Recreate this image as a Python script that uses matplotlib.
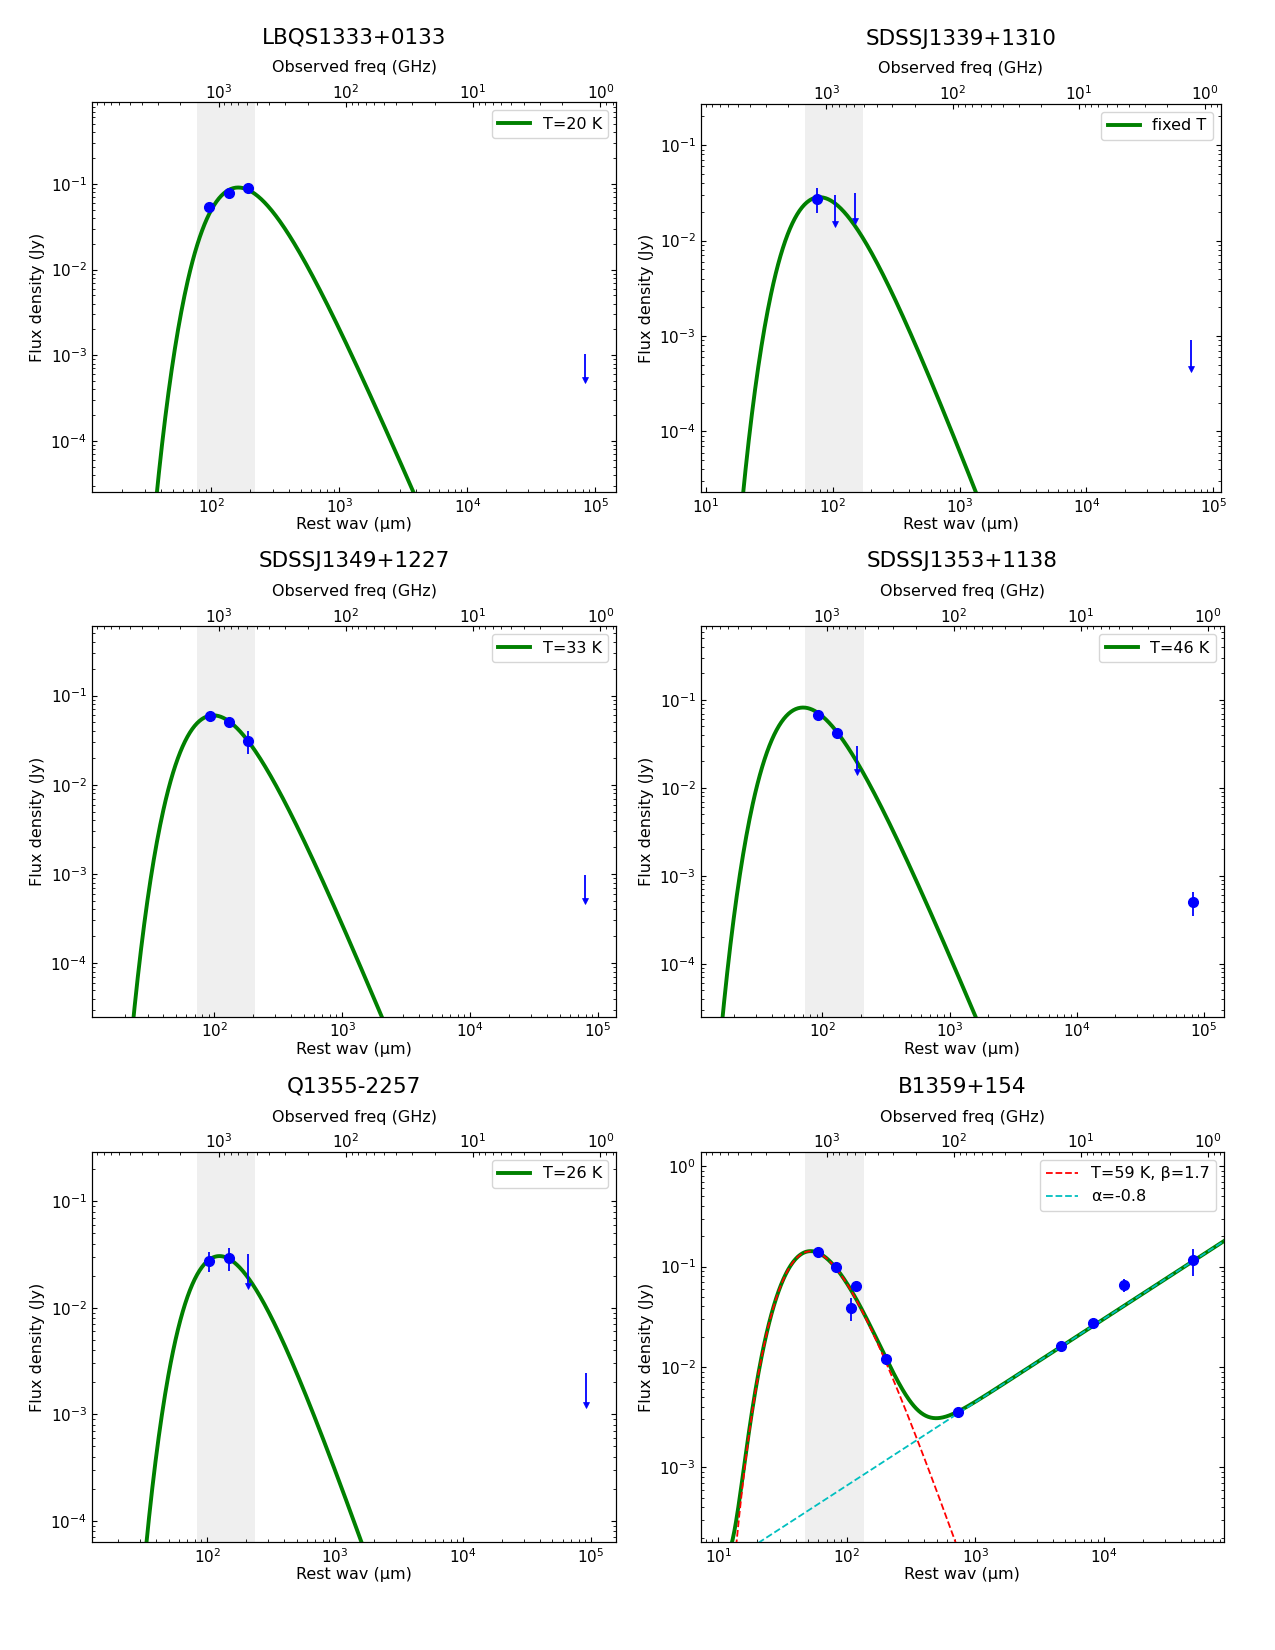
import numpy as np
from matplotlib import pyplot as plt

# source names and fit labels
names = ['LBQS1333+0133', 'SDSSJ1339+1310', 'SDSSJ1349+1227',
         'SDSSJ1353+1138', 'Q1355-2257', 'B1359+154']
fit_labels = ['T=20 K', 'fixed T', 'T=33 K', 'T=46 K', 'T=26 K', None]

# greybody parameters (rest frame), peak flux
temps = [20, 41, 33, 46, 26, 59]
betas = [1.5, 1.5, 1.5, 1.5, 1.5, 1.7]
peak_flux = [0.091, 0.0285, 0.060, 0.082, 0.0306, 0.142]

# synchrotron for B1359+154: S ~ nu^alpha, flux at 1000 um rest
sync_alpha = -0.83
sync_s1000 = 4.45e-3

# detections: rest wavelength (um), flux (Jy), error (Jy)
det_wav = [
    [96, 136, 194],
    [75],
    [92, 129, 184],
    [93, 130, 82800],
    [104, 147],
    [60, 83, 107, 119, 201, 738, 4670, 8280, 14300, 49000],
]
det_flux = [
    [0.054, 0.0795, 0.0896],
    [0.0273],
    [0.0593, 0.051, 0.0313],
    [0.068, 0.0426, 5.0e-4],
    [0.0276, 0.0294],
    [0.139, 0.098, 0.039, 0.064, 0.012, 3.56e-3, 0.0162, 0.0276, 0.0659, 0.116],
]
det_err = [
    [0.005, 0.006, 0.006],
    [0.008],
    [0.005, 0.005, 0.009],
    [0.006, 0.004, 1.5e-4],
    [0.006, 0.007],
    [0.008, 0.006, 0.010, 0.006, 0.0015, 3e-4, 1e-3, 1.5e-3, 0.01, 0.035],
]

# upper limits: rest wavelength (um), limit (Jy)
lim_wav = [
    [83700],
    [105, 151, 66400],
    [79600],
    [186],
    [207, 92200],
    [],
]
lim_flux = [
    [1.03e-3],
    [0.0297, 0.0318, 9.0e-4],
    [9.8e-4],
    [0.030],
    [0.0318, 2.46e-3],
    [],
]

# axis ranges
xlims = [(11.6, 1.46e5), (9.1, 1.15e5), (11.0, 1.39e5),
         (11.0, 1.44e5), (12.5, 1.58e5), (7.3, 8.6e4)]
ylims = [(2.5e-5, 0.9), (2.3e-5, 0.27), (2.5e-5, 0.6),
         (2.5e-5, 0.69), (6.3e-5, 0.29), (1.8e-4, 1.38)]
freq_lim = (9.9e3, 0.75)      # observed GHz, top axis
band_ghz = (515, 1480)        # shaded observed band


def greybody(lam, T, beta):
    x = 14387.77 / (lam * T)
    return lam ** -(3 + beta) / np.expm1(x)


plt.rcParams['font.size'] = 11
fig = plt.figure(figsize=(12.75, 16.5), dpi=100)

W, H = 1275.0, 1650.0
boxes = [
    (91.8, 102.3, 616.3, 492.4), (700.6, 104, 1221, 492.4),
    (91.8, 626.2, 616.3, 1016.7), (700.6, 626.2, 1224, 1016.7),
    (91.8, 1152.1, 616.3, 1542.1), (700.6, 1152.1, 1224, 1542.1),
]

lam = np.logspace(0.5, 5.5, 800)

for i in range(6):
    x0, y0, x1, y1 = boxes[i]
    ax = fig.add_axes([x0 / W, 1 - y1 / H, (x1 - x0) / W, (y1 - y0) / H])
    ax2 = ax.twiny()
    ax.set_zorder(ax2.get_zorder() + 1)
    ax.patch.set_visible(False)

    ax2.set_xscale('log')
    ax2.set_xlim(*freq_lim)
    ax2.axvspan(band_ghz[0], band_ghz[1], color='#efefef', lw=0)
    ax2.set_xlabel('Observed freq (GHz)', fontsize=11.5, labelpad=8)
    ax2.tick_params(which='both', direction='in', labelsize=11, pad=0.5)

    dust = greybody(lam, temps[i], betas[i])
    dust = peak_flux[i] * dust / dust.max()
    if i == 5:
        sync = sync_s1000 * (lam / 1000.0) ** (-sync_alpha)
        ax.plot(lam, dust + sync, 'g-', lw=2.8)
        ax.plot(lam, dust, 'r--', lw=1.3,
                label='T=%d K, β=%.1f' % (temps[i], betas[i]))
        ax.plot(lam, sync, 'c--', lw=1.3, label='α=%.1f' % sync_alpha)
    else:
        ax.plot(lam, dust, 'g-', lw=2.8, label=fit_labels[i])

    ax.errorbar(det_wav[i], det_flux[i], yerr=det_err[i], fmt='bo',
                ms=7, elinewidth=1.3, capsize=0)
    if len(lim_wav[i]) > 0:
        lf = np.array(lim_flux[i])
        eb = ax.errorbar(lim_wav[i], lf, yerr=0.5 * lf, uplims=True,
                         fmt='none', ecolor='b', elinewidth=1.3, capsize=0)
        for cl in eb[1]:
            cl.set_marker('v')
            cl.set_markersize(5)
            cl.set_markerfacecolor('b')
            cl.set_markeredgecolor('b')
            cl.set_markeredgewidth(0.5)

    ax.set_xscale('log')
    ax.set_yscale('log')
    ax.set_xlim(*xlims[i])
    ax.set_ylim(*ylims[i])
    ax.tick_params(which='both', direction='in', right=True, top=False,
                   labelsize=11)
    ax.set_xlabel('Rest wav (μm)', fontsize=11.5, labelpad=1)
    ax.set_ylabel('Flux density (Jy)', fontsize=11.5)
    ax.set_title(names[i], fontsize=15.5, pad=12)
    ax.legend(loc='upper right', fontsize=11.5)

fig.savefig('out.png', dpi=100)
